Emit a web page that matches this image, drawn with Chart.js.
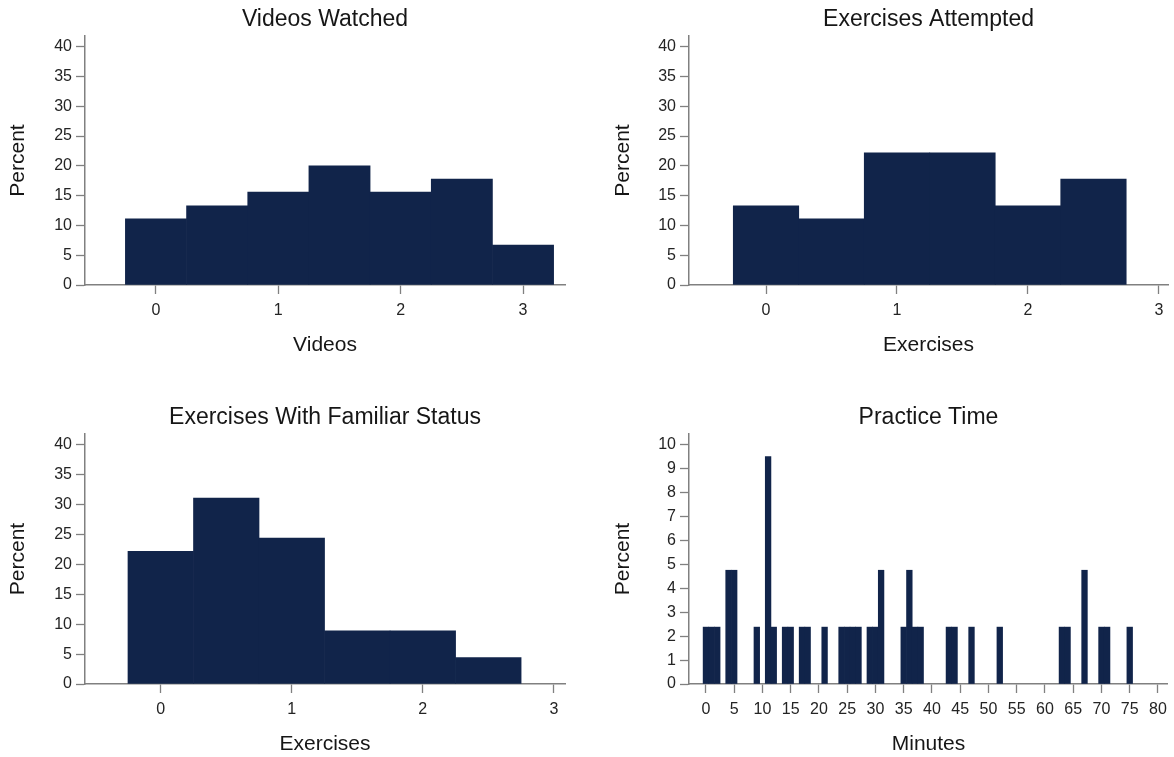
<!DOCTYPE html>
<html>
<head>
<meta charset="utf-8">
<title>Student activity histograms</title>
<script src="https://cdn.jsdelivr.net/npm/chart.js@4/dist/chart.umd.min.js"></script>
<style>
  html, body { margin: 0; padding: 0; background: #ffffff; }
  #board { position: relative; width: 1174px; height: 757px; overflow: hidden; background: #ffffff; }
  #board canvas { position: absolute; }
</style>
</head>
<body>
<div id="board">
  <canvas id="videos"    width="587" height="398" style="left:0px;top:0px"></canvas>
  <canvas id="attempted" width="587" height="398" style="left:587px;top:0px"></canvas>
  <canvas id="familiar"  width="587" height="359" style="left:0px;top:398px"></canvas>
  <canvas id="practice"  width="587" height="359" style="left:587px;top:398px"></canvas>
</div>
<script>
// Histogram bins (bin centres) and the percent of students in each bin
const videoBins = [0, 0.5, 1, 1.5, 2, 2.5, 3];
const videoPercent = [11.1, 13.3, 15.6, 20.0, 15.6, 17.8, 6.7];

const attemptedBins = [0, 0.5, 1, 1.5, 2, 2.5];
const attemptedPercent = [13.3, 11.1, 22.2, 22.2, 13.3, 17.8];

const familiarBins = [0, 0.5, 1, 1.5, 2, 2.5];
const familiarPercent = [22.2, 31.1, 24.4, 8.9, 8.9, 4.4];

// Practice time uses one-minute bins; empty minutes are left out
const practiceMinutes = [0, 1, 2, 4, 5, 9, 11, 12, 14, 15, 17, 18, 21, 24, 25, 26, 27, 29, 30, 31,
                         35, 36, 37, 38, 43, 44, 47, 52, 63, 64, 67, 70, 71, 75];
const practicePercent = [2.38, 2.38, 2.38, 4.76, 4.76, 2.38, 9.52, 2.38, 2.38, 2.38, 2.38, 2.38, 2.38,
                         2.38, 2.38, 2.38, 2.38, 2.38, 2.38, 4.76, 2.38, 4.76, 2.38, 2.38, 2.38, 2.38,
                         2.38, 2.38, 2.38, 2.38, 4.76, 2.38, 2.38, 2.38];

// Tick labels
const percentTicks = [0, 5, 10, 15, 20, 25, 30, 35, 40];
const countTicks = [0, 1, 2, 3];
const practicePercentTicks = [0, 1, 2, 3, 4, 5, 6, 7, 8, 9, 10];
const minuteTicks = [0, 5, 10, 15, 20, 25, 30, 35, 40, 45, 50, 55, 60, 65, 70, 75, 80];

const FONT = '"Liberation Sans", Arial, Helvetica, sans-serif';
const BAR = '#11244a';
const AXIS = '#808080';
const TICK_TEXT = '#242424';
const TITLE_TEXT = '#161616';

function histogram(id, o) {
  const points = o.bins.map((b, i) => ({ x: b, y: o.values[i] }));
  return new Chart(document.getElementById(id), {
    type: 'bar',
    data: {
      datasets: [{
        data: points,
        backgroundColor: BAR,
        borderWidth: 0,
        categoryPercentage: 1,
        barPercentage: 1
      }]
    },
    options: {
      responsive: false,
      maintainAspectRatio: false,
      animation: false,
      devicePixelRatio: 1,
      events: [],
      layout: { padding: { left: 0, right: o.padRight, top: 0, bottom: 0 } },
      plugins: {
        legend: { display: false },
        tooltip: { enabled: false },
        title: {
          display: true,
          text: o.title,
          fullSize: false,
          color: TITLE_TEXT,
          font: { family: FONT, size: 23, weight: 'normal' },
          padding: { top: 6.2, bottom: 2.2 }
        }
      },
      scales: {
        x: {
          type: 'linear',
          min: o.xMin,
          max: o.xMax,
          offset: false,
          afterBuildTicks: s => { s.ticks = o.xTicks.map(v => ({ value: v })); },
          afterFit: s => { s.height = o.xHeight; },
          grid: { drawOnChartArea: false, drawTicks: true, tickLength: 9, tickColor: AXIS, tickWidth: 1.3, offset: false },
          border: { display: true, color: AXIS, width: 1.5 },
          ticks: {
            color: TICK_TEXT,
            font: { family: FONT, size: 16 },
            padding: 7,
            maxRotation: 0,
            autoSkip: false,
            callback: v => String(v)
          },
          title: {
            display: true,
            text: o.xTitle,
            color: TITLE_TEXT,
            font: { family: FONT, size: 21 },
            padding: { top: 0, bottom: o.xTitlePad }
          }
        },
        y: {
          min: 0,
          max: o.yMax,
          afterBuildTicks: s => { s.ticks = o.yTicks.map(v => ({ value: v })); },
          afterFit: s => { s.width = o.yWidth; },
          grid: { drawOnChartArea: false, drawTicks: true, tickLength: 9, tickColor: AXIS, tickWidth: 1.3 },
          border: { display: true, color: AXIS, width: 1.5 },
          ticks: {
            color: TICK_TEXT,
            font: { family: FONT, size: 16 },
            padding: 4,
            autoSkip: false,
            callback: v => String(v)
          },
          title: {
            display: true,
            text: 'Percent',
            color: TITLE_TEXT,
            font: { family: FONT, size: 21 },
            padding: { top: o.yTitlePad, bottom: 0 }
          }
        }
      }
    }
  });
}

histogram('videos', {
  title: 'Videos Watched', xTitle: 'Videos',
  bins: videoBins, values: videoPercent,
  xMin: -0.58, xMax: 3.343, xTicks: countTicks,
  yMax: 41.8, yTicks: percentTicks,
  yWidth: 85, padRight: 22, xHeight: 113, xTitlePad: 40.4, yTitlePad: 6
});

histogram('attempted', {
  title: 'Exercises Attempted', xTitle: 'Exercises',
  bins: attemptedBins, values: attemptedPercent,
  xMin: -0.588, xMax: 3.069, xTicks: countTicks,
  yMax: 41.8, yTicks: percentTicks,
  yWidth: 102, padRight: 6, xHeight: 113, xTitlePad: 40.4, yTitlePad: 24
});

histogram('familiar', {
  title: 'Exercises With Familiar Status', xTitle: 'Exercises',
  bins: familiarBins, values: familiarPercent,
  xMin: -0.578, xMax: 3.085, xTicks: countTicks,
  yMax: 41.8, yTicks: percentTicks,
  yWidth: 85, padRight: 22, xHeight: 73, xTitlePad: 0.4, yTitlePad: 6
});

histogram('practice', {
  title: 'Practice Time', xTitle: 'Minutes',
  bins: practiceMinutes, values: practicePercent,
  xMin: -3.0, xMax: 81.77, xTicks: minuteTicks,
  yMax: 10.46, yTicks: practicePercentTicks,
  yWidth: 102, padRight: 5, xHeight: 73, xTitlePad: 0.4, yTitlePad: 24
});
</script>
</body>
</html>
